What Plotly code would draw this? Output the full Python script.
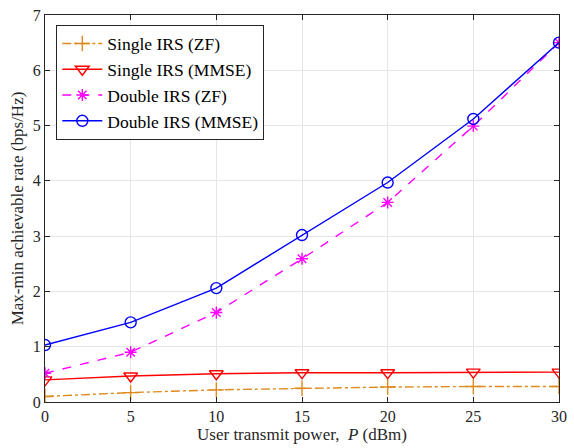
import plotly.graph_objects as go

power_dbm = [0, 5, 10, 15, 20, 25, 30]
single_zf = [0.10, 0.17, 0.22, 0.25, 0.27, 0.28, 0.28]
single_mmse = [0.40, 0.47, 0.51, 0.53, 0.53, 0.54, 0.54]
double_zf = [0.52, 0.90, 1.62, 2.59, 3.61, 4.99, 6.50]
double_mmse = [1.03, 1.44, 2.06, 3.02, 3.97, 5.12, 6.50]

SERIF = "Liberation Serif"

series = [
    ("Single IRS (ZF)", single_zf, "#E08A1E", "dashdot", "cross-thin-open", 11),
    ("Single IRS (MMSE)", single_mmse, "#FF0000", "solid", "triangle-down-open", 12),
    ("Double IRS (ZF)", double_zf, "#FF00FF", "dash", "asterisk-open", 10),
    ("Double IRS (MMSE)", double_mmse, "#0000FF", "solid", "circle-open", 11),
]

fig = go.Figure()
for name, ys, color, dash, symbol, size in series:
    fig.add_trace(go.Scatter(
        x=power_dbm, y=ys, name=name, mode="lines+markers",
        line=dict(color=color, width=1.4, dash=dash),
        marker=dict(symbol=symbol, size=size, color=color,
                    line=dict(color=color, width=1.4)),
    ))

axis_common = dict(
    showline=True, linecolor="#262626", linewidth=1, mirror="ticks",
    ticks="inside", ticklen=5, tickcolor="#262626",
    showgrid=True, gridcolor="#E6E6E6", gridwidth=1,
    zeroline=False,
    tickfont=dict(family=SERIF, size=16, color="#262626"),
)

fig.update_layout(
    width=574, height=448,
    margin=dict(l=45, r=7, t=12, b=46),
    paper_bgcolor="white", plot_bgcolor="white",
    font=dict(family=SERIF, size=16, color="#262626"),
    xaxis=dict(range=[0, 30], tickvals=[0, 5, 10, 15, 20, 25, 30],
               title=dict(text="User transmit power,  <i>P</i> (dBm)",
                          font=dict(family=SERIF, size=17), standoff=3),
               **axis_common),
    yaxis=dict(range=[0, 7], tickvals=[0, 1, 2, 3, 4, 5, 6, 7],
               title=dict(text="Max-min achievable rate (bps/Hz)",
                          font=dict(family=SERIF, size=17), standoff=4),
               **axis_common),
    legend=dict(x=0.022, y=0.975, xanchor="left", yanchor="top",
                bgcolor="white", bordercolor="#262626", borderwidth=1,
                font=dict(family=SERIF, size=17.5, color="black"),
                tracegroupgap=0, itemwidth=40),
    showlegend=True,
)

fig.write_html("out.html")
